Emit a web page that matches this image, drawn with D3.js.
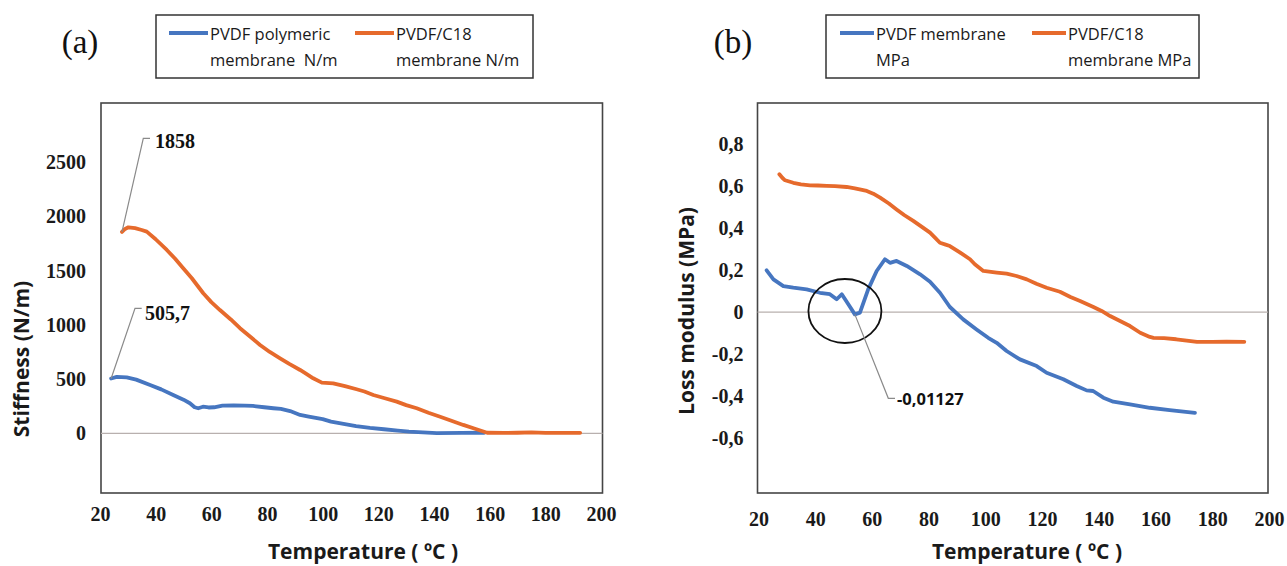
<!DOCTYPE html>
<html>
<head>
<meta charset="utf-8">
<script src="https://cdn.jsdelivr.net/npm/d3@7"></script>
<style>
  body { margin: 0; background: #fff; }
  svg { display: block; }
</style>
</head>
<body>
<svg id="chart" width="1287" height="566"></svg>
<script>
// ---- (a) Stiffness vs temperature ----
const stiffTempPVDF = [24.0, 26.0, 29.6, 33, 38, 42, 46.3, 50, 52.3, 54, 55.3, 57, 59, 61, 64, 68, 72, 75, 79, 82.3, 85, 88.3, 91.9, 95, 100, 103, 108, 112, 117, 122, 127, 131, 136, 141, 150, 158];
const stiffPVDF     = [505.7, 520, 515, 495, 446, 405, 353, 310, 277, 240, 231, 245, 238, 240, 255, 258, 255, 252, 240, 231, 225, 205, 169, 153, 130, 107, 85, 67, 50, 37, 25, 15, 8, 2, 3, 5];

const stiffTempC18 = [27.9, 29.0, 30.2, 32.6, 35, 36.8, 40, 44, 47, 49.9, 53, 57.1, 60, 63.1, 67, 70.3, 74, 77.5, 81, 84.7, 88, 91.9, 94, 96.6, 99.7, 103.8, 108, 112.2, 115, 118.2, 122, 126.6, 130, 133.8, 138, 142.2, 146, 150.5, 155, 159.1, 165, 170, 175, 180, 185, 192.5];
const stiffC18     = [1858, 1885, 1900, 1892, 1875, 1860, 1790, 1691, 1610, 1522, 1430, 1292, 1210, 1137, 1050, 969, 890, 815, 750, 692, 640, 584, 550, 507, 467, 461, 435, 406, 385, 353, 325, 292, 260, 231, 190, 153, 118, 77, 40, 5, 4, 5, 8, 4, 4, 4];

// ---- (b) Loss modulus vs temperature ----
const lossTempPVDF = [22.9, 25.3, 28.8, 32.3, 37.0, 41.7, 45.2, 47.6, 49.4, 51.7, 54.0, 55.8, 58.7, 61.7, 64.6, 66.4, 68.7, 72.3, 77.0, 80.5, 84.0, 87.5, 92.2, 96.9, 101.0, 104.0, 107.5, 112.2, 118.1, 121.6, 127.5, 132.2, 135.7, 138.0, 141.6, 145.1, 151.0, 158.0, 165, 173.9];
const lossPVDF     = [0.199, 0.156, 0.124, 0.116, 0.108, 0.092, 0.085, 0.061, 0.085, 0.037, -0.01127, -0.003, 0.108, 0.196, 0.252, 0.235, 0.244, 0.220, 0.180, 0.145, 0.092, 0.024, -0.035, -0.083, -0.123, -0.147, -0.186, -0.226, -0.258, -0.290, -0.321, -0.353, -0.374, -0.377, -0.409, -0.428, -0.441, -0.457, -0.468, -0.481];

const lossTempC18 = [27.4, 28.5, 29.4, 32.3, 35, 38.2, 41, 44.1, 47, 51.1, 54, 58.2, 60.5, 62.9, 66, 68.7, 71.5, 74.6, 77.5, 80.5, 82.5, 84.0, 86, 87.5, 91, 94.6, 96.3, 99.3, 104.0, 107.5, 111, 114.6, 118, 121.6, 126.3, 130, 133.4, 138.1, 141, 144.0, 147.5, 151.0, 154.6, 158.0, 159.3, 163, 167.3, 171, 174.6, 180, 185, 191.3];
const lossC18     = [0.658, 0.640, 0.629, 0.617, 0.610, 0.605, 0.604, 0.602, 0.601, 0.597, 0.590, 0.578, 0.565, 0.546, 0.518, 0.490, 0.462, 0.435, 0.408, 0.379, 0.352, 0.331, 0.322, 0.315, 0.285, 0.252, 0.228, 0.196, 0.188, 0.183, 0.172, 0.156, 0.135, 0.116, 0.097, 0.072, 0.053, 0.024, 0.005, -0.019, -0.043, -0.067, -0.099, -0.119, -0.123, -0.125, -0.130, -0.136, -0.142, -0.142, -0.141, -0.142];

// ---- axes ----
const tempTicks  = [20, 40, 60, 80, 100, 120, 140, 160, 180, 200];
const stiffTicks = [0, 500, 1000, 1500, 2000, 2500];
const lossTicks  = [-0.6, -0.4, -0.2, 0, 0.2, 0.4, 0.6, 0.8];

// ---- text ----
const legendA = [["PVDF polymeric", "membrane  N/m"], ["PVDF/C18", "membrane N/m"]];
const legendB = [["PVDF membrane", "MPa"], ["PVDF/C18", "membrane MPa"]];
const xTitle = "Temperature ( \u00BAC )";

const BLUE = "#4676C0", ORANGE = "#E66A2C";
const SANS = "'Open Sans', 'DejaVu Sans', sans-serif";
const SERIF = "'Liberation Serif', 'Times New Roman', serif";

const commaLocale = d3.formatLocale({ decimal: ",", thousands: ".", grouping: [3], currency: ["", ""], minus: "-" });
const fmtLoss = v => Math.abs(v) < 1e-9 ? "0" : commaLocale.format(".1f")(v);

const svg = d3.select("#chart");
svg.append("rect").attr("width", 1287).attr("height", 566).attr("fill", "#fff");

function drawPanel(cfg) {
  const g = svg.append("g");
  const x = d3.scaleLinear().domain([20, 200]).range(cfg.xRange);
  const y = d3.scaleLinear().domain(cfg.yDomain).range([cfg.frame.bottom, cfg.frame.top]);
  const f = cfg.frame;

  // plot frame
  g.append("rect")
    .attr("x", f.left).attr("y", f.top)
    .attr("width", f.right - f.left).attr("height", f.bottom - f.top)
    .attr("fill", "#fff").attr("stroke", "#454545").attr("stroke-width", 1.6);

  // zero line
  g.append("line")
    .attr("x1", f.left).attr("x2", f.right)
    .attr("y1", y(0)).attr("y2", y(0))
    .attr("stroke", "#b8b0ae").attr("stroke-width", 1.3);

  // y axis labels
  const ya = g.append("g").attr("transform", `translate(${f.left},0)`)
    .call(d3.axisLeft(y).tickValues(cfg.yTicks).tickFormat(cfg.yFormat).tickSize(0).tickPadding(cfg.yPad));
  ya.select(".domain").remove();
  ya.attr("font-family", SERIF).attr("font-size", 20);
  ya.selectAll("text").attr("font-weight", "bold").attr("fill", "#1a1a1a");

  // x axis labels
  const xa = g.append("g").attr("transform", `translate(0,${f.bottom})`)
    .call(d3.axisBottom(x).tickValues(tempTicks).tickFormat(d3.format("d")).tickSize(0).tickPadding(cfg.xPad));
  xa.select(".domain").remove();
  xa.attr("font-family", SERIF).attr("font-size", 20);
  xa.selectAll("text").attr("font-weight", "bold").attr("fill", "#1a1a1a");

  // series
  const line = d3.line().x(d => x(d[0])).y(d => y(d[1]));
  cfg.series.forEach(s => {
    g.append("path")
      .datum(s.t.map((t, i) => [t, s.v[i]]))
      .attr("d", line)
      .attr("fill", "none").attr("stroke", s.color)
      .attr("stroke-width", 3.8).attr("stroke-linejoin", "round").attr("stroke-linecap", "round");
  });

  // axis titles
  g.append("text")
    .attr("x", cfg.xTitlePos[0]).attr("y", cfg.xTitlePos[1])
    .attr("text-anchor", "middle")
    .attr("font-family", SANS).attr("font-weight", "bold").attr("font-size", 21).attr("fill", "#1a1a1a")
    .text(xTitle);
  g.append("text")
    .attr("transform", `translate(${cfg.yTitlePos[0]},${cfg.yTitlePos[1]}) rotate(-90)`)
    .attr("text-anchor", "middle")
    .attr("font-family", SANS).attr("font-weight", "bold").attr("font-size", 21).attr("fill", "#1a1a1a")
    .text(cfg.yTitle);

  // panel letter
  g.append("text")
    .attr("x", cfg.letterPos[0]).attr("y", cfg.letterPos[1])
    .attr("text-anchor", "middle")
    .attr("font-family", SERIF).attr("font-size", 33).attr("fill", "#111")
    .text(cfg.letter);

  // legend
  const L = cfg.legend;
  g.append("rect")
    .attr("x", L.box[0]).attr("y", L.box[1]).attr("width", L.box[2]).attr("height", L.box[3])
    .attr("fill", "#fff").attr("stroke", "#333").attr("stroke-width", 1.5);
  L.items.forEach((lines, i) => {
    const ix = L.itemX[i];
    g.append("line")
      .attr("x1", ix).attr("x2", ix + L.swatch)
      .attr("y1", L.swatchY).attr("y2", L.swatchY)
      .attr("stroke", cfg.series[i].color).attr("stroke-width", 3.8);
    const t = g.append("text")
      .attr("font-family", SANS).attr("font-size", 16.5).attr("fill", "#1a1a1a");
    lines.forEach((s, k) => {
      t.append("tspan").attr("x", ix + L.swatch + 2).attr("y", L.baselines[k])
        .style("white-space", "pre").text(s);
    });
  });

  return { x, y, g };
}

// ---------- panel (a) ----------
const A = drawPanel({
  xRange: [100, 601],
  yDomain: [-551, 3047],
  frame: { left: 101, right: 602.5, top: 103, bottom: 493 },
  yTicks: stiffTicks, yFormat: d3.format("d"), yPad: 15,
  xPad: 14,
  series: [
    { t: stiffTempPVDF, v: stiffPVDF, color: BLUE },
    { t: stiffTempC18, v: stiffC18, color: ORANGE }
  ],
  xTitlePos: [363, 559],
  yTitle: "Stiffness (N/m)", yTitlePos: [29, 359],
  letter: "(a)", letterPos: [80, 53],
  legend: { box: [156, 15, 377, 63], items: legendA, itemX: [169, 355], swatch: 39, swatchY: 33, baselines: [40, 66] }
});

// ---------- panel (b) ----------
const B = drawPanel({
  xRange: [758.4, 1269],
  yDomain: [-0.864, 0.998],
  frame: { left: 757.5, right: 1268, top: 103, bottom: 493 },
  yTicks: lossTicks, yFormat: fmtLoss, yPad: 14,
  xPad: 18.5,
  series: [
    { t: lossTempPVDF, v: lossPVDF, color: BLUE },
    { t: lossTempC18, v: lossC18, color: ORANGE }
  ],
  xTitlePos: [1027, 559],
  yTitle: "Loss modulus (MPa)", yTitlePos: [694, 311],
  letter: "(b)", letterPos: [733, 53],
  legend: { box: [826, 15, 373, 63], items: legendB, itemX: [840, 1032], swatch: 34, swatchY: 33, baselines: [40, 66] }
});

// ---------- data callouts ----------
function callout(panel, t, v, elbow, labelX, baseline, label, font) {
  const px = panel.x(t), py = panel.y(v);
  panel.g.append("path")
    .attr("d", `M${px},${py} L${elbow[0]},${elbow[1]} L${elbow[0] + 6.7},${elbow[1]}`)
    .attr("fill", "none").attr("stroke", "#8a8a8a").attr("stroke-width", 1.2);
  panel.g.append("text")
    .attr("x", labelX).attr("y", baseline)
    .attr("font-family", font.family).attr("font-weight", "bold").attr("font-size", font.size).attr("fill", "#111")
    .text(label);
}

callout(A, stiffTempC18[0], stiffC18[0], [143.3, 138.3], 155, 148, "1858", { family: SERIF, size: 20 });
callout(A, stiffTempPVDF[0], stiffPVDF[0], [135, 308.3], 145, 320, "505,7", { family: SERIF, size: 20 });

// local dip of the PVDF loss curve (below 60 °C)
const dipIdx = d3.minIndex(lossPVDF.map((v, i) => lossTempPVDF[i] < 60 ? v : Infinity));
// ring around the dip
B.g.append("ellipse")
  .attr("cx", B.x(50.5)).attr("cy", B.y(0.005))
  .attr("rx", 36.5).attr("ry", 32)
  .attr("fill", "none").attr("stroke", "#111").attr("stroke-width", 1.8);
callout(B, lossTempPVDF[dipIdx], lossPVDF[dipIdx], [888.3, 398.3], 897, 405, "-0,01127", { family: SANS, size: 16.5 });
</script>
</body>
</html>
